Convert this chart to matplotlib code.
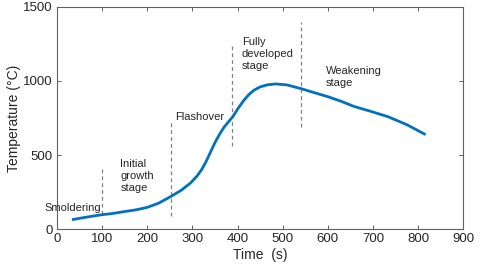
import matplotlib.pyplot as plt

plt.rcParams["font.family"] = ["Liberation Sans", "DejaVu Sans"]

# temperature curve
time_s = [36, 60, 80, 99, 120, 147, 175, 199, 225, 251, 275, 296, 310, 320, 330,
          340, 350, 360, 370, 380, 389, 400, 414, 425, 436, 450, 466, 484, 510,
          543, 570, 600, 630, 658, 695, 733, 775, 814]
temp_c = [65, 78, 88, 97, 104, 117, 130, 146, 175, 218, 262, 312, 358, 400, 455,
          520, 585, 640, 688, 725, 757, 810, 870, 908, 937, 960, 974, 980, 973,
          946, 921, 894, 862, 828, 795, 759, 705, 642]

# dashed stage boundaries: x, y bottom, y top
stage_x = [100, 252, 388, 540]
stage_lo = [100, 90, 560, 690]
stage_hi = [410, 725, 1250, 1395]

# stage labels: text, x, y (centre)
labels = ["Smoldering", "Initial\ngrowth\nstage", "Flashover",
          "Fully\ndeveloped\nstage", "Weakening\nstage"]
label_x = [-29, 140, 262, 409, 596]
label_y = [145, 358, 757, 1182, 1027]

fig = plt.figure(figsize=(4.8, 2.76), dpi=100)
ax = fig.add_axes([0.119, 0.170, 0.846, 0.805])

ax.plot(time_s, temp_c, color="#0072BD", lw=2.0, zorder=3)

for x, lo, hi in zip(stage_x, stage_lo, stage_hi):
    ax.plot([x, x], [lo, hi], color="#808080", lw=0.9, ls=(0, (3, 2.5)), zorder=2)

for txt, x, y in zip(labels, label_x, label_y):
    ax.text(x, y, txt, fontsize=8, color="#262626", ha="left", va="center",
            linespacing=1.3, clip_on=False)

ax.set_xlim(0, 900)
ax.set_ylim(0, 1500)
ax.set_xticks(range(0, 901, 100))
ax.set_yticks([0, 500, 1000, 1500])
ax.tick_params(direction="in", top=True, right=True, length=3, width=0.7,
               color="#606060", labelsize=9.5, labelcolor="#262626", pad=3)
for s in ax.spines.values():
    s.set_color("#606060")
    s.set_linewidth(0.8)

ax.set_xlabel("Time  (s)", fontsize=10, color="#262626", labelpad=2)
ax.set_ylabel("Temperature (°C)", fontsize=10, color="#262626", labelpad=2)

fig.savefig("out.png", dpi=100)
